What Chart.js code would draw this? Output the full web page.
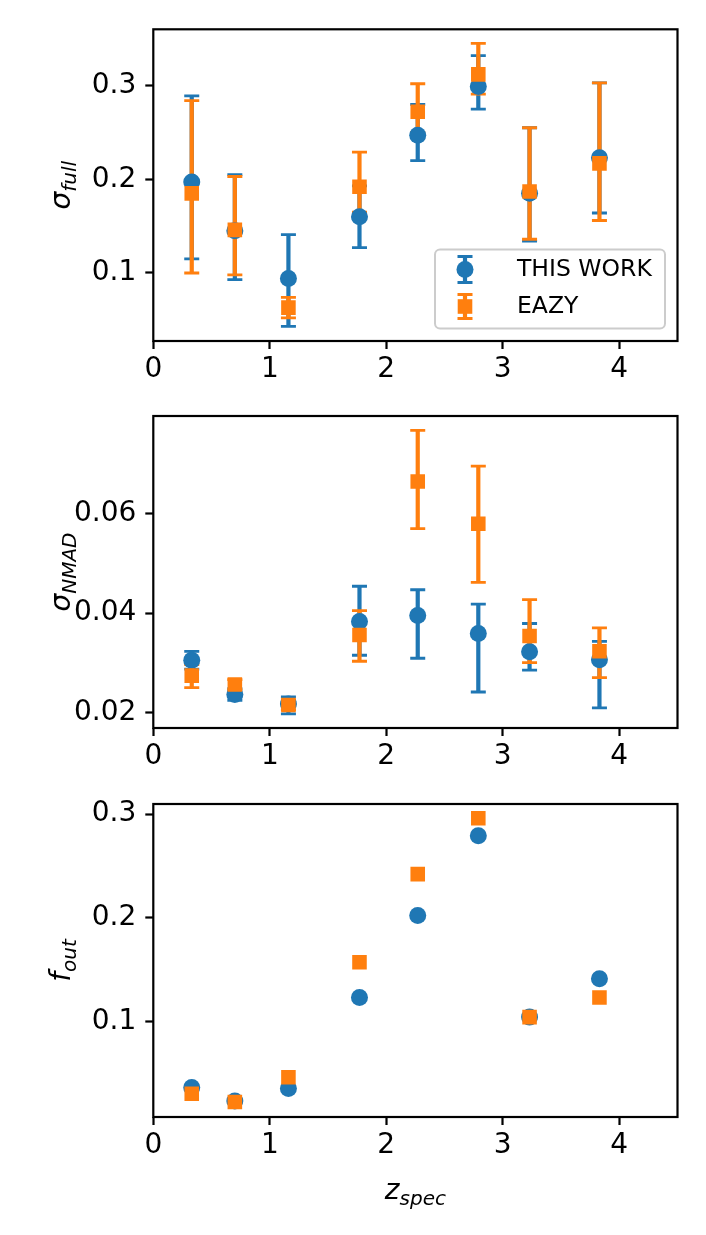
<!DOCTYPE html>
<html>
<head>
<meta charset="utf-8">
<script src="https://cdn.jsdelivr.net/npm/chart.js@4.4.0/dist/chart.umd.min.js"></script>
<style>
  html, body { margin: 0; padding: 0; background: #fff; }
  #wrap { position: relative; width: 706px; height: 1235px; }
  canvas { position: absolute; left: 0; }
</style>
</head>
<body>
<div id="wrap">
  <canvas id="c1" width="706" height="395" style="top:0px"></canvas>
  <canvas id="c2" width="706" height="394" style="top:390px"></canvas>
  <canvas id="c3" width="706" height="457" style="top:778px"></canvas>
</div>
<script>
/* data */
var zBins = [0.33, 0.70, 1.16, 1.77, 2.27, 2.79, 3.23, 3.83];
var xTicks = [0, 1, 2, 3, 4];

// sigma_full
var workFull   = [0.197, 0.145, 0.094, 0.160, 0.247, 0.299, 0.185, 0.223];
var workFullLo = [0.115, 0.093, 0.043, 0.127, 0.220, 0.275, 0.134, 0.164];
var workFullHi = [0.289, 0.205, 0.141, 0.193, 0.280, 0.332, 0.255, 0.303];
var eazyFull   = [0.185, 0.146, 0.063, 0.192, 0.272, 0.312, 0.187, 0.217];
var eazyFullLo = [0.100, 0.098, 0.052, 0.165, 0.250, 0.291, 0.136, 0.156];
var eazyFullHi = [0.284, 0.203, 0.074, 0.229, 0.302, 0.345, 0.255, 0.303];
var fullTicks = [0.1, 0.2, 0.3];
var fullTickLabels = ['0.1', '0.2', '0.3'];

// sigma_NMAD
var workNmad   = [0.0305, 0.0236, 0.0217, 0.0383, 0.0395, 0.0359, 0.0322, 0.0306];
var workNmadLo = [0.0287, 0.0224, 0.0197, 0.0315, 0.0309, 0.0241, 0.0285, 0.0209];
var workNmadHi = [0.0323, 0.0248, 0.0231, 0.0454, 0.0447, 0.0418, 0.0379, 0.0343];
var eazyNmad   = [0.0274, 0.0256, 0.0215, 0.0356, 0.0665, 0.0580, 0.0354, 0.0323];
var eazyNmadLo = [0.0250, 0.0246, 0.0205, 0.0303, 0.0570, 0.0462, 0.0300, 0.0270];
var eazyNmadHi = [0.0296, 0.0266, 0.0225, 0.0405, 0.0768, 0.0696, 0.0427, 0.0370];
var nmadTicks = [0.02, 0.04, 0.06];
var nmadTickLabels = ['0.02', '0.04', '0.06'];

// outlier fraction
var workOut = [0.036, 0.023, 0.035, 0.123, 0.202, 0.279, 0.104, 0.141];
var eazyOut = [0.030, 0.022, 0.046, 0.157, 0.242, 0.296, 0.104, 0.123];
var outTicks = [0.1, 0.2, 0.3];
var outTickLabels = ['0.1', '0.2', '0.3'];

var seriesNames = ['THIS WORK', 'EAZY'];
var blue = '#1f77b4', orange = '#ff7f0e';
var FONT = '"DejaVu Sans"';

function pts(vals) {
    return zBins.map(function (z, i) { return { x: z, y: vals[i] }; });
}

function drawMath(ctx, main, sub, x, y, rot) {
    ctx.save();
    ctx.translate(x, y);
    if (rot) ctx.rotate(-Math.PI / 2);
    ctx.fillStyle = '#000';
    ctx.textBaseline = 'alphabetic';
    ctx.textAlign = 'left';
    var fMain = 'italic 28px ' + FONT, fSub = 'italic 20px ' + FONT;
    ctx.font = fMain; var w1 = ctx.measureText(main).width;
    ctx.font = fSub; var w2 = ctx.measureText(sub).width;
    var x0 = -(w1 + w2) / 2;
    ctx.font = fMain; ctx.fillText(main, x0, 0);
    ctx.font = fSub; ctx.fillText(sub, x0 + w1, 6);
    ctx.restore();
}

function drawErr(ctx, color, x, y1, y2) {
    ctx.strokeStyle = color;
    ctx.lineWidth = 4.2;
    ctx.beginPath(); ctx.moveTo(x, y1); ctx.lineTo(x, y2); ctx.stroke();
    ctx.lineWidth = 2.8;
    ctx.beginPath();
    ctx.moveTo(x - 7.5, y1); ctx.lineTo(x + 7.5, y1);
    ctx.moveTo(x - 7.5, y2); ctx.lineTo(x + 7.5, y2);
    ctx.stroke();
}

/* error bars: all bars under all markers, like matplotlib */
var errorBars = {
    id: 'errorBars',
    beforeDatasetsDraw: function (chart) {
        var ctx = chart.ctx, xs = chart.scales.x, ys = chart.scales.y;
        chart.data.datasets.forEach(function (ds) {
            if (!ds.errLow) return;
            ctx.save();
            ds.data.forEach(function (p, i) {
                drawErr(ctx, ds.backgroundColor, xs.getPixelForValue(p.x),
                    ys.getPixelForValue(ds.errLow[i]), ys.getPixelForValue(ds.errHigh[i]));
            });
            ctx.restore();
        });
    }
};

/* box around plot + math axis titles + legend */
var frame = {
    id: 'frame',
    afterDraw: function (chart, args, opts) {
        var ctx = chart.ctx, a = chart.chartArea;
        ctx.save();
        ctx.strokeStyle = '#000';
        ctx.lineWidth = 2.2;
        ctx.strokeRect(a.left, a.top, a.right - a.left, a.bottom - a.top);
        ctx.restore();
        var cy = (a.top + a.bottom) / 2;
        drawMath(ctx, opts.yMain, opts.ySub, 70, cy, true);
        if (opts.xMain) drawMath(ctx, opts.xMain, opts.xSub, (a.left + a.right) / 2, a.bottom + 82, false);
        if (opts.legend) {
            var w = 230, h = 79;
            var L = a.right - 12.5 - w, T = a.bottom - 12.5 - h;
            ctx.save();
            ctx.beginPath();
            ctx.roundRect(L, T, w, h, 5);
            ctx.fillStyle = 'rgba(255,255,255,0.8)';
            ctx.fill();
            ctx.strokeStyle = '#cccccc';
            ctx.lineWidth = 2;
            ctx.stroke();
            var mx = L + 30;
            var rows = [T + 20, T + 57];
            drawErr(ctx, blue, mx, rows[0] - 13, rows[0] + 13);
            drawErr(ctx, orange, mx, rows[1] - 12, rows[1] + 12);
            ctx.fillStyle = blue;
            ctx.beginPath(); ctx.arc(mx, rows[0], 8.5, 0, Math.PI * 2); ctx.fill();
            ctx.fillStyle = orange;
            ctx.fillRect(mx - 7.3, rows[1] - 7.3, 14.6, 14.6);
            ctx.fillStyle = '#000';
            ctx.font = '23.5px ' + FONT;
            ctx.textBaseline = 'middle';
            ctx.textAlign = 'left';
            ctx.fillText(seriesNames[0], L + 82, rows[0]);
            ctx.fillText(seriesNames[1], L + 82, rows[1]);
            ctx.restore();
        }
    }
};

function makeChart(id, sets, yMin, yMax, yTicks, yLabels, padTop, xAxisH, titles) {
    var ctx = document.getElementById(id).getContext('2d');
    return new Chart(ctx, {
        type: 'scatter',
        data: { datasets: sets },
        options: {
            responsive: false,
            animation: false,
            events: [],
            layout: { padding: { top: padTop, right: 28.5, left: 0, bottom: 0 } },
            plugins: {
                legend: { display: false },
                tooltip: { enabled: false },
                frame: titles
            },
            scales: {
                x: {
                    type: 'linear', min: 0, max: 4.5,
                    afterBuildTicks: function (s) { s.ticks = xTicks.map(function (v) { return { value: v }; }); },
                    afterFit: function (s) { s.height = xAxisH; },
                    border: { display: false },
                    grid: { drawOnChartArea: false, drawTicks: true, tickLength: 8, tickWidth: 2.2, tickColor: '#000' },
                    ticks: { color: '#000', padding: 4, maxRotation: 0, font: { family: 'DejaVu Sans', size: 28 },
                             callback: function (v) { return String(v); } }
                },
                y: {
                    type: 'linear', min: yMin, max: yMax,
                    afterBuildTicks: function (s) { s.ticks = yTicks.map(function (v) { return { value: v }; }); },
                    afterFit: function (s) { s.width = 153.3; },
                    border: { display: false },
                    grid: { drawOnChartArea: false, drawTicks: true, tickLength: 8, tickWidth: 2.2, tickColor: '#000' },
                    ticks: { color: '#000', padding: 9, font: { family: 'DejaVu Sans', size: 28 },
                             callback: function (v, i) { return yLabels[i]; } }
                }
            }
        },
        plugins: [errorBars, frame]
    });
}

function pair(wv, wl, wh, ev, el, eh) {
    return [
        { label: seriesNames[0], data: pts(wv), errLow: wl, errHigh: wh, order: 2,
          backgroundColor: blue, borderColor: blue, borderWidth: 0, pointStyle: 'circle', pointRadius: 8.5 },
        { label: seriesNames[1], data: pts(ev), errLow: el, errHigh: eh, order: 1,
          backgroundColor: orange, borderColor: orange, borderWidth: 0, pointStyle: 'rect', pointRadius: 10.3 }
    ];
}

makeChart('c1', pair(workFull, workFullLo, workFullHi, eazyFull, eazyFullLo, eazyFullHi),
    0.0274, 0.3601, fullTicks, fullTickLabels, 29.3, 54,
    { yMain: 'σ', ySub: 'full', legend: true });

makeChart('c2', pair(workNmad, workNmadLo, workNmadHi, eazyNmad, eazyNmadLo, eazyNmadHi),
    0.01685, 0.0797, nmadTicks, nmadTickLabels, 26, 56,
    { yMain: 'σ', ySub: 'NMAD' });

makeChart('c3', pair(workOut, null, null, eazyOut, null, null),
    0.0076, 0.3097, outTicks, outTickLabels, 26, 118,
    { yMain: 'f', ySub: 'out', xMain: 'z', xSub: 'spec' });
</script>
</body>
</html>
